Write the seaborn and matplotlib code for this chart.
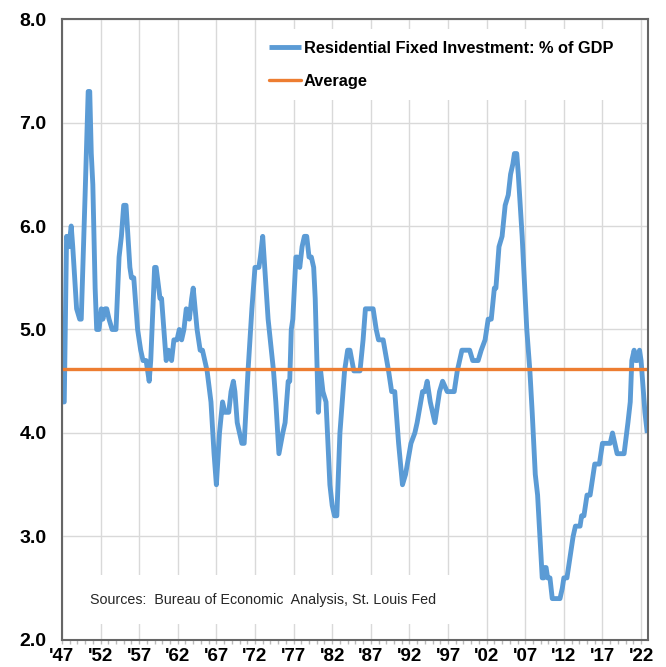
import pandas as pd
import numpy as np
import matplotlib
matplotlib.use("Agg")
import matplotlib.pyplot as plt
from matplotlib.ticker import MultipleLocator, FixedLocator
import seaborn as sns

sns.set_theme(style="whitegrid")
plt.rcParams["font.family"] = ["Liberation Sans", "DejaVu Sans"]

# ---- Data (turning points, decimal years) ----
years = [
    1947.0, 1947.3, 1947.6, 1947.9, 1948.2, 1948.4, 1948.9, 1949.3, 1949.5, 1950.0,
    1950.4, 1950.6, 1950.8, 1951.0, 1951.3, 1951.5, 1951.8, 1952.1, 1952.3, 1952.6,
    1952.8, 1953.1, 1953.5, 1954.0, 1954.4, 1954.7, 1955.0, 1955.3, 1955.8, 1956.0,
    1956.3, 1956.8, 1957.2, 1957.5, 1957.9, 1958.3, 1958.5, 1959.0, 1959.2, 1959.7,
    1959.9, 1960.5, 1960.8, 1961.2, 1961.5, 1961.9, 1962.2, 1962.5, 1962.8, 1963.1,
    1963.5, 1963.8, 1964.0, 1964.5, 1964.9, 1965.2, 1965.8, 1966.3, 1966.7, 1967.0,
    1967.4, 1967.8, 1968.1, 1968.6, 1968.9, 1969.2, 1969.4, 1969.7, 1970.0, 1970.3,
    1970.6, 1971.1, 1971.6, 1971.8, 1972.0, 1972.5, 1972.7, 1973.0, 1973.7, 1974.4,
    1974.7, 1975.1, 1975.6, 1975.9, 1976.3, 1976.5, 1976.7, 1976.9, 1977.3, 1977.5,
    1977.8, 1978.1, 1978.4, 1978.7, 1979.0, 1979.3, 1979.6, 1979.8, 1980.2, 1980.5,
    1980.8, 1981.2, 1981.7, 1982.0, 1982.3, 1982.6, 1983.0, 1983.6, 1984.0, 1984.3,
    1984.8, 1985.6, 1986.0, 1986.3, 1987.3, 1987.7, 1988.0, 1988.6, 1989.3, 1989.7,
    1990.1, 1990.6, 1991.1, 1991.5, 1992.2, 1992.7, 1993.0, 1993.7, 1994.0, 1994.3,
    1994.7, 1995.3, 1995.9, 1996.3, 1996.9, 1997.8, 1998.2, 1998.8, 1999.8, 2000.2,
    2000.9, 2001.3, 2001.8, 2002.2, 2002.6, 2003.0, 2003.2, 2003.6, 2004.0, 2004.4,
    2004.8, 2005.1, 2005.4, 2005.6, 2005.9, 2006.1, 2006.6, 2007.2, 2007.6, 2007.9,
    2008.3, 2008.6, 2008.9, 2009.2, 2009.4, 2009.5, 2009.7, 2009.9, 2010.2, 2010.5,
    2011.5, 2011.8, 2012.0, 2012.4, 2012.8, 2013.2, 2013.5, 2014.1, 2014.3, 2014.6,
    2015.0, 2015.4, 2015.8, 2016.0, 2016.6, 2017.0, 2018.0, 2018.3, 2018.6, 2018.9,
    2019.8, 2020.3, 2020.6, 2020.8, 2021.1, 2021.3, 2021.5, 2021.8, 2022.0, 2022.5,
    2022.8,
]
share = [
    4.3, 4.3, 5.9, 5.8, 6.0, 5.8, 5.2, 5.1, 5.1, 6.3,
    7.3, 7.3, 6.7, 6.4, 5.4, 5.0, 5.0, 5.2, 5.1, 5.2,
    5.2, 5.1, 5.0, 5.0, 5.7, 5.9, 6.2, 6.2, 5.6, 5.5,
    5.5, 5.0, 4.8, 4.7, 4.7, 4.5, 4.7, 5.6, 5.6, 5.3,
    5.3, 4.7, 4.8, 4.7, 4.9, 4.9, 5.0, 4.9, 5.0, 5.2,
    5.1, 5.3, 5.4, 5.0, 4.8, 4.8, 4.6, 4.3, 3.8, 3.5,
    4.0, 4.3, 4.2, 4.2, 4.4, 4.5, 4.4, 4.1, 4.0, 3.9,
    3.9, 4.6, 5.2, 5.4, 5.6, 5.6, 5.7, 5.9, 5.1, 4.6,
    4.3, 3.8, 4.0, 4.1, 4.5, 4.5, 5.0, 5.1, 5.7, 5.7,
    5.6, 5.8, 5.9, 5.9, 5.7, 5.7, 5.6, 5.3, 4.2, 4.6,
    4.4, 4.3, 3.5, 3.3, 3.2, 3.2, 4.0, 4.6, 4.8, 4.8,
    4.6, 4.6, 4.9, 5.2, 5.2, 5.0, 4.9, 4.9, 4.6, 4.4,
    4.4, 3.9, 3.5, 3.6, 3.9, 4.0, 4.1, 4.4, 4.4, 4.5,
    4.3, 4.1, 4.4, 4.5, 4.4, 4.4, 4.6, 4.8, 4.8, 4.7,
    4.7, 4.8, 4.9, 5.1, 5.1, 5.4, 5.4, 5.8, 5.9, 6.2,
    6.3, 6.5, 6.6, 6.7, 6.7, 6.5, 5.9, 5.0, 4.6, 4.2,
    3.6, 3.4, 3.0, 2.6, 2.6, 2.7, 2.7, 2.6, 2.6, 2.4,
    2.4, 2.5, 2.6, 2.6, 2.8, 3.0, 3.1, 3.1, 3.2, 3.2,
    3.4, 3.4, 3.6, 3.7, 3.7, 3.9, 3.9, 4.0, 3.9, 3.8,
    3.8, 4.1, 4.3, 4.7, 4.8, 4.7, 4.7, 4.8, 4.7, 4.2,
    4.0,
]
average = 4.62

tick_years = [1947, 1952, 1957, 1962, 1967, 1972, 1977, 1982, 1987, 1992,
              1997, 2002, 2007, 2012, 2017, 2022]
tick_labels = ["'47", "'52", "'57", "'62", "'67", "'72", "'77", "'82", "'87", "'92",
               "'97", "'02", "'07", "'12", "'17", "'22"]
y_ticks = [2.0, 3.0, 4.0, 5.0, 6.0, 7.0, 8.0]

df = pd.DataFrame({"year": years, "share": share})

# ---- Figure ----
fig = plt.figure(figsize=(6.66, 6.67), dpi=100)
ax = fig.add_axes([0.093, 0.0405, 0.880, 0.931])

sns.lineplot(data=df, x="year", y="share", ax=ax, color="#5B9BD5", linewidth=3.5,
             estimator=None, label="Residential Fixed Investment: % of GDP",
             solid_joinstyle="round", solid_capstyle="butt")
ax.axhline(average, color="#ED7D31", linewidth=2.4, label="Average")

ax.set_xlim(1947, 2022.9)
ax.set_ylim(2.0, 8.0)
ax.set_xlabel("")
ax.set_ylabel("")

ax.xaxis.set_major_locator(FixedLocator(tick_years))
ax.xaxis.set_minor_locator(MultipleLocator(1))
ax.set_xticks(tick_years)
ax.set_xticklabels(tick_labels)
ax.set_yticks(y_ticks)
ax.set_yticklabels([f"{v:.1f}" for v in y_ticks])

ax.grid(True, which="major", color="#D9D9D9", linewidth=1.0)
ax.grid(False, which="minor")
ax.set_facecolor("white")
for side in ["left", "bottom", "right", "top"]:
    ax.spines[side].set_visible(True)
    ax.spines[side].set_color("#666666")
    ax.spines[side].set_linewidth(1.5)

ax.tick_params(axis="y", length=0, pad=11, labelsize=14, labelcolor="black")
ax.tick_params(axis="x", which="major", direction="out", length=3, width=1,
               color="#BBBBBB", pad=3, labelsize=13.5, labelcolor="black", bottom=True)
ax.tick_params(axis="x", which="minor", direction="out", length=3, width=1,
               color="#BBBBBB", bottom=True)
for lab in ax.get_xticklabels() + ax.get_yticklabels():
    lab.set_fontweight("bold")

leg = ax.legend(loc="upper left", bbox_to_anchor=(0.32, 0.997), frameon=True,
                facecolor="white", edgecolor="none", framealpha=1, fancybox=False,
                prop={"weight": "bold", "size": 11.8}, handlelength=1.95,
                handletextpad=0.15, labelspacing=1.12, borderpad=0.7)
for t in leg.get_texts():
    t.set_color("black")

# sources note: x in axes fraction, y in data units
ax.text(0.048, 2.39, "Sources:  Bureau of Economic  Analysis, St. Louis Fed",
        transform=ax.get_yaxis_transform(),
        fontsize=10.3, color="#262626", va="center", ha="left", zorder=6,
        bbox=dict(boxstyle="square,pad=1.2", facecolor="white", edgecolor="none"))

fig.savefig("out.png", dpi=100)
